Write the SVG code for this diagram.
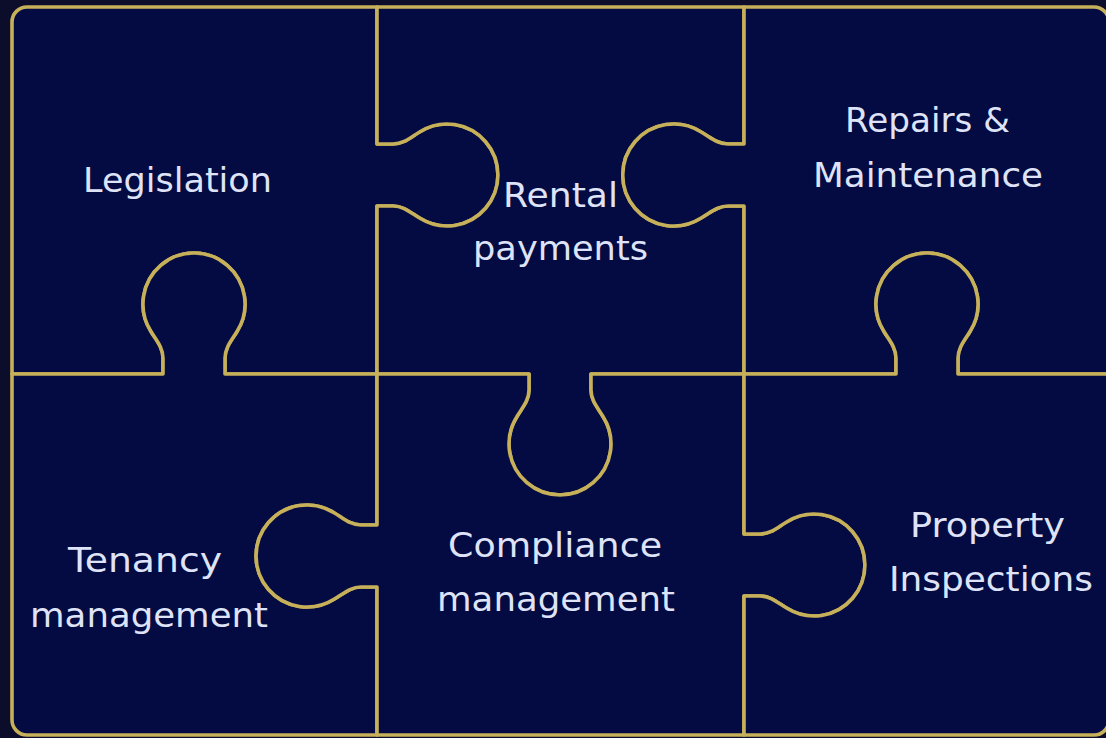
<svg xmlns="http://www.w3.org/2000/svg" width="1106" height="738" viewBox="0 0 1106 738">
<style>
.piece{fill:#040a42;stroke:#c6b05a;stroke-width:3.6;stroke-linejoin:round}
.lbl{font-family:"DejaVu Sans","Liberation Sans",sans-serif;font-size:33px;fill:#dfe3f7}
</style>
<rect x="0" y="0" width="1106" height="738" fill="#0b0d2b"/>
<g id="legislation">
<path class="piece" d="M27,7 L377,7 L377,144 L393,144 C404,144 411.3,136.7 420,131.7 A51,51 0 1 1 420,218.3 C411.3,213.3 404,206 393,206 L377,206 L377,374 L225,374 L225,358 C225,347 232.3,339.7 237.3,331 A51,51 0 1 0 150.7,331 C155.7,339.7 163,347 163,358 L163,374 L12,374 L12,22 A15,15 0 0 1 27,7 Z"/>
<text class="lbl" x="83" y="192" textLength="189" lengthAdjust="spacingAndGlyphs">Legislation</text>
</g>
<g id="rental-payments">
<path class="piece" d="M377,7 L744,7 L744,144 L728,144 C717,144 709.7,136.7 700.7,131.7 A51,51 0 1 0 700.7,218.3 C709.7,213.3 717,206 728,206 L744,206 L744,374 L591,374 L591,390 C591,401 598.3,408.3 603.3,417 A51,51 0 1 1 516.7,417 C521.7,408.3 529,401 529,390 L529,374 L377,374 L377,206 L393,206 C404,206 411.3,213.3 420,218.3 A51,51 0 1 0 420,131.7 C411.3,136.7 404,144 393,144 L377,144 Z"/>
<text class="lbl" x="503" y="207" textLength="115" lengthAdjust="spacingAndGlyphs">Rental</text>
<text class="lbl" x="473" y="260" textLength="175" lengthAdjust="spacingAndGlyphs">payments</text>
</g>
<g id="repairs-maintenance">
<path class="piece" d="M744,7 L1094,7 A15,15 0 0 1 1109,22 L1109,374 L958,374 L958,358 C958,347 965.3,339.7 970.3,331 A51,51 0 1 0 883.7,331 C888.7,339.7 896,347 896,358 L896,374 L744,374 L744,206 L728,206 C717,206 709.7,213.3 700.7,218.3 A51,51 0 1 1 700.7,131.7 C709.7,136.7 717,144 728,144 L744,144 Z"/>
<text class="lbl" x="845" y="132" textLength="165" lengthAdjust="spacingAndGlyphs">Repairs &amp;</text>
<text class="lbl" x="813" y="187" textLength="230" lengthAdjust="spacingAndGlyphs">Maintenance</text>
</g>
<g id="tenancy-management">
<path class="piece" d="M12,374 L163,374 L163,358 C163,347 155.7,339.7 150.7,331 A51,51 0 1 1 237.3,331 C232.3,339.7 225,347 225,358 L225,374 L377,374 L377,525 L361,525 C350,525 342.7,517.7 334,512.7 A51,51 0 1 0 334,599.3 C342.7,594.3 350,587 361,587 L377,587 L377,735 L27,735 A15,15 0 0 1 12,720 Z"/>
<text class="lbl" x="68" y="572" textLength="154" lengthAdjust="spacingAndGlyphs">Tenancy</text>
<text class="lbl" x="30" y="627" textLength="238" lengthAdjust="spacingAndGlyphs">management</text>
</g>
<g id="compliance-management">
<path class="piece" d="M377,374 L529,374 L529,390 C529,401 521.7,408.3 516.7,417 A51,51 0 1 0 603.3,417 C598.3,408.3 591,401 591,390 L591,374 L744,374 L744,534 L760,534 C771,534 778.3,526.7 787,521.7 A51,51 0 1 1 787,608.3 C778.3,603.3 771,596 760,596 L744,596 L744,735 L377,735 L377,587 L361,587 C350,587 342.7,594.3 334,599.3 A51,51 0 1 1 334,512.7 C342.7,517.7 350,525 361,525 L377,525 Z"/>
<text class="lbl" x="448" y="557" textLength="214" lengthAdjust="spacingAndGlyphs">Compliance</text>
<text class="lbl" x="437" y="611" textLength="238" lengthAdjust="spacingAndGlyphs">management</text>
</g>
<g id="property-inspections">
<path class="piece" d="M744,374 L896,374 L896,358 C896,347 888.7,339.7 883.7,331 A51,51 0 1 1 970.3,331 C965.3,339.7 958,347 958,358 L958,374 L1109,374 L1109,720 A15,15 0 0 1 1094,735 L744,735 L744,596 L760,596 C771,596 778.3,603.3 787,608.3 A51,51 0 1 0 787,521.7 C778.3,526.7 771,534 760,534 L744,534 Z"/>
<text class="lbl" x="910" y="537" textLength="155" lengthAdjust="spacingAndGlyphs">Property</text>
<text class="lbl" x="889" y="591" textLength="204" lengthAdjust="spacingAndGlyphs">Inspections</text>
</g>
<g id="connectors"></g>
</svg>
